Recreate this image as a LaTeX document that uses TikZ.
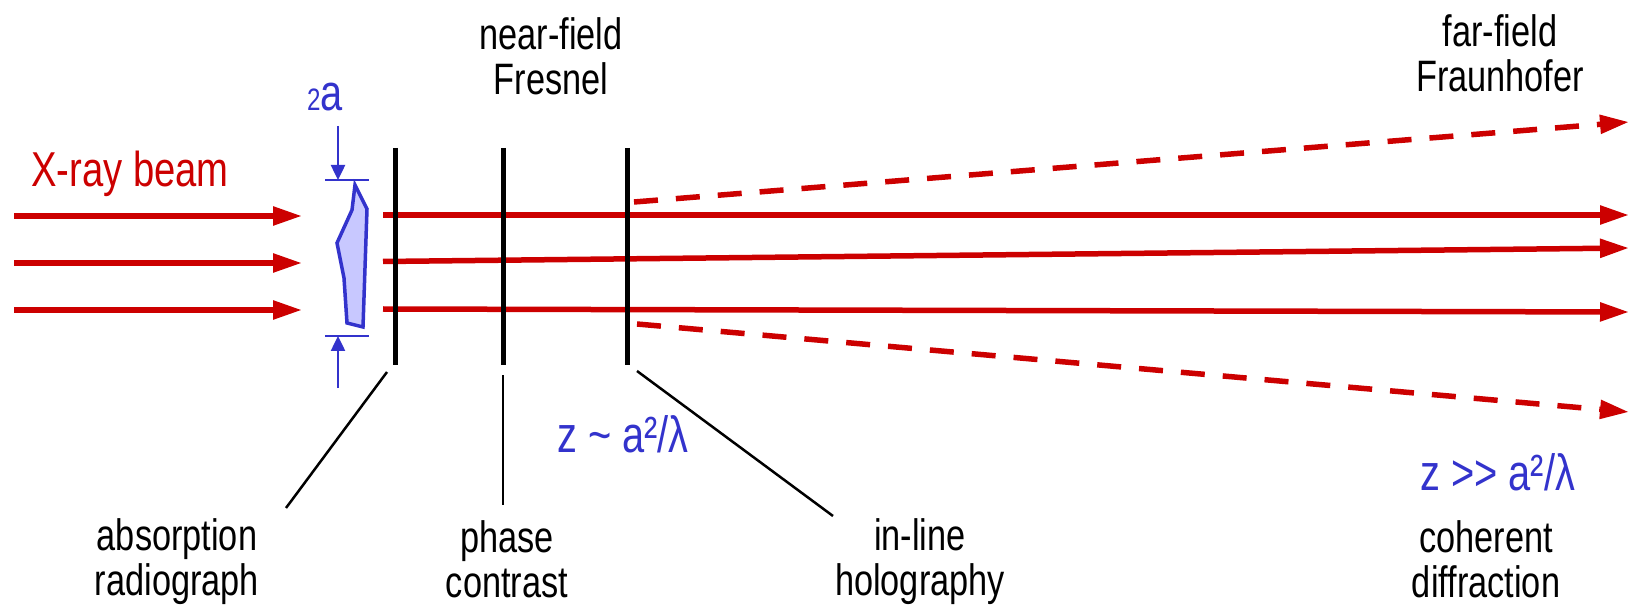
\documentclass[tikz,border=0pt]{standalone}
\usepackage{fontspec}
\setmainfont{Liberation Sans}[FakeStretch=0.78]
\usetikzlibrary{arrows.meta, positioning}
\definecolor{beamred}{RGB}{204,0,0}
\definecolor{dimblue}{RGB}{51,51,204}
\definecolor{samplefill}{RGB}{200,200,255}

\begin{document}
\begin{tikzpicture}[x=1pt, y=-1pt,
    beam/.style={draw=beamred, line width=5.5pt, -{Triangle[length=29pt, width=18pt]}},
    wave/.style={beam, dash pattern=on 24pt off 18pt},
    screen/.style={line width=5pt},
    leader/.style={line width=2.5pt},
    dim/.style={draw=dimblue, line width=2.5pt},
    dimarrow/.style={dim, -{Triangle[length=15pt, width=14pt]}},
    lbl/.style={font=\fontsize{44}{45}\selectfont, align=center, inner sep=0pt},
    blbl/.style={text=dimblue, font=\fontsize{51}{52}\selectfont, inner sep=0pt}]
    \useasboundingbox (0,0) rectangle (1631,612);

    % incoming beam
    \foreach \y [count=\i] in {216,263,310} {
        \coordinate (in\i) at (14,\y);
        \coordinate (hit\i) at (302,\y);
        \draw[beam] (in\i) -- (hit\i);
    }
    \node[text=beamred, font=\fontsize{49}{50}\selectfont, inner sep=0pt, anchor=base west] (xray) at (31,187) {X-ray beam};

    % sample and its size
    \draw[draw=dimblue, fill=samplefill, line width=3.5pt, line join=miter]
        (355,185) -- (367,209) -- (363,327) -- (347,323) -- (344,278) -- (337,243) -- (352,210) -- cycle;
    \coordinate (dtop) at (338,180);
    \coordinate (dbot) at (338,336);
    \draw[dim] (325,180) -- (369,180);
    \draw[dim] (325,336) -- (369,336);
    \draw[dimarrow] (338,126) -- (dtop);
    \draw[dimarrow] (338,388) -- (dbot);
    \node[blbl, anchor=base] (size) at (325,110.7) {{\fontsize{31}{31}\selectfont 2}a};

    % transmitted and scattered beam
    \coordinate (out1) at (383,215);   \coordinate (far1) at (1629,215);
    \coordinate (out2) at (383,261.5); \coordinate (far2) at (1629,248);
    \coordinate (out3) at (383,309);   \coordinate (far3) at (1629,312);
    \coordinate (sc1) at (634,202);    \coordinate (farsc1) at (1629,122);
    \coordinate (sc2) at (637,324);    \coordinate (farsc2) at (1629,412);
    \foreach \i in {1,2,3} \draw[beam] (out\i) -- (far\i);
    \draw[wave] (sc1) -- (farsc1);
    \draw[wave] (sc2) -- (farsc2);

    % detector planes
    \foreach \x/\n in {395/abs,503/pha,627/hol} {
        \coordinate (\n t) at (\x,148);
        \coordinate (\n b) at (\x,365);
        \draw[screen] (\n t) -- (\n b);
    }

    % regimes (anchor base = last line)
    \node[lbl, anchor=base] (near) at (551,95) {near-field\\Fresnel};
    \node[lbl, anchor=base] (far) at (1500,91.7) {far-field\\Fraunhofer};
    \node[blbl, anchor=base west] (fres) at (557,452.7) {z \textasciitilde{} a²/λ};
    \node[blbl, anchor=base west] (fraun) at (1420,490.7) {z >\kern0pt> a²/λ};

    % methods
    \node[lbl, anchor=base] (absl) at (177,595) {absorption\\radiograph};
    \node[lbl, anchor=base] (phal) at (507,597) {phase\\contrast};
    \node[lbl, anchor=base] (holl) at (920,595) {in-line\\holography};
    \node[lbl, anchor=base] (cohl) at (1486,597) {coherent\\diffraction};

    \coordinate (absend) at (286,508);
    \coordinate (phaend) at (503,505);
    \coordinate (holend) at (833,516);
    \draw[leader] (387,372) -- (absend);
    \draw[leader] (503,375) -- (phaend);
    \draw[leader] (637,371) -- (holend);
\end{tikzpicture}
\end{document}
